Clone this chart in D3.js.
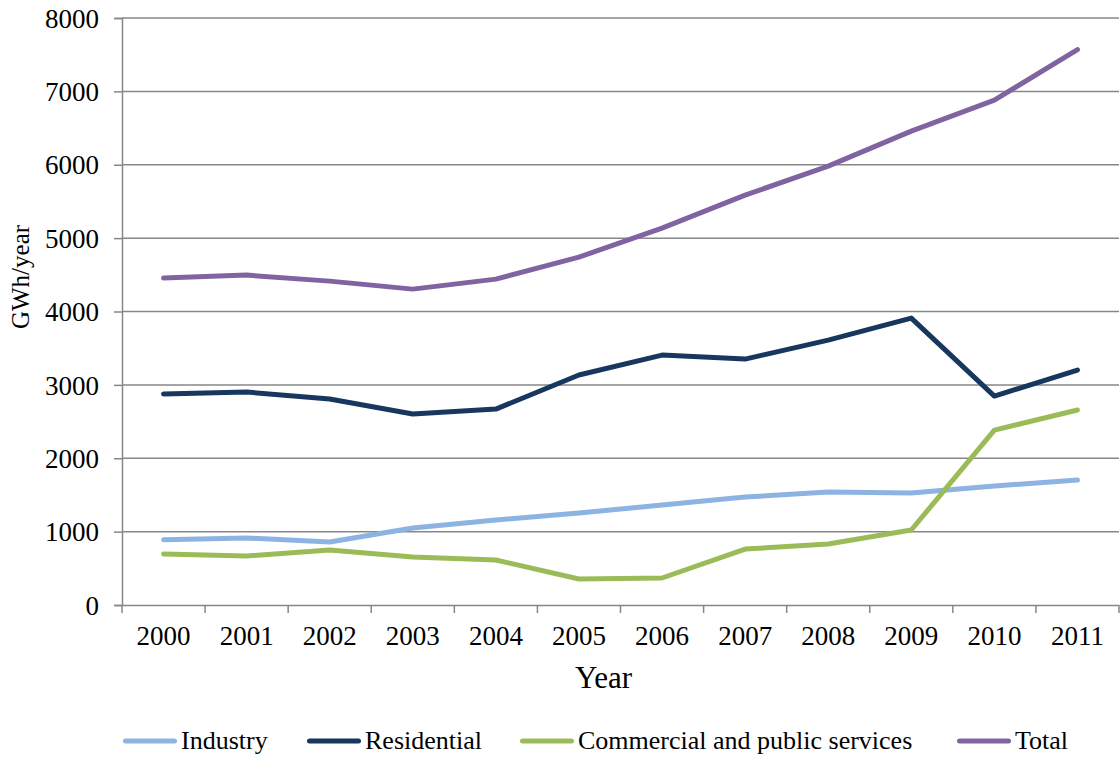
<!DOCTYPE html>
<html>
<head>
<meta charset="utf-8">
<script src="https://cdn.jsdelivr.net/npm/d3@7"></script>
<style>
  html, body { margin: 0; padding: 0; background: #fff; }
  svg { display: block; font-family: "Liberation Serif", "Times New Roman", serif; }
</style>
</head>
<body>
<svg id="chart" width="1120" height="758"></svg>
<script>
// Electricity consumption by sector, GWh/year
const years = ["2000","2001","2002","2003","2004","2005","2006","2007","2008","2009","2010","2011"];
const industry    = [890, 913, 858, 1049, 1158, 1253, 1362, 1471, 1540, 1526, 1621, 1703];
const residential = [2875, 2902, 2807, 2602, 2670, 3134, 3406, 3351, 3610, 3910, 2847, 3202];
const commercial  = [695, 668, 749, 654, 613, 354, 368, 763, 831, 1022, 2384, 2657];
const total       = [4455, 4496, 4414, 4305, 4441, 4741, 5136, 5586, 5981, 6458, 6880, 7570];
const yTicks = [0, 1000, 2000, 3000, 4000, 5000, 6000, 7000, 8000];

const seriesNames  = ["Industry", "Residential", "Commercial and public services", "Total"];
const seriesValues = [industry, residential, commercial, total];
const seriesColors = ["#8db3e2", "#17375e", "#9bbb59", "#8064a2"];

const svg = d3.select("#chart");
const plotLeft = 122, plotRight = 1119, plotTop = 18, plotBottom = 605;
const serif = "Liberation Serif, Times New Roman, serif";

const x = d3.scaleBand().domain(years).range([plotLeft, plotRight]);
const y = d3.scaleLinear().domain([0, 8000]).range([plotBottom, plotTop]);
const gridColor = "#878787";

// horizontal gridlines
svg.append("g").selectAll("line").data(yTicks.filter(d => d > 0)).join("line")
  .attr("x1", plotLeft).attr("x2", plotRight)
  .attr("y1", d => y(d)).attr("y2", d => y(d))
  .attr("stroke", gridColor).attr("stroke-width", 1.5);

// y axis
const yAxis = svg.append("g").attr("transform", `translate(${plotLeft},0)`)
  .attr("font-family", serif)
  .call(d3.axisLeft(y).tickValues(yTicks).tickFormat(d3.format("d")).tickSize(8).tickPadding(15));
yAxis.attr("font-family", serif);
yAxis.select(".domain").attr("stroke", gridColor).attr("stroke-width", 1.5);
yAxis.selectAll(".tick line").attr("stroke", gridColor).attr("stroke-width", 1.5);
yAxis.selectAll("text").attr("font-size", 27).attr("fill", "#000").attr("dy", "0.34em");

// x axis with tick marks between categories
const xAxis = svg.append("g").attr("transform", `translate(0,${plotBottom})`)
  .call(d3.axisBottom(x).tickSize(0).tickPadding(21));
xAxis.attr("font-family", serif);
xAxis.select(".domain").attr("stroke", gridColor).attr("stroke-width", 1.5);
xAxis.selectAll("text").attr("font-size", 27).attr("fill", "#000");
const edges = years.map(d => x(d)).concat([plotRight]);
svg.append("g").selectAll("line").data(edges).join("line")
  .attr("x1", d => d).attr("x2", d => d)
  .attr("y1", plotBottom).attr("y2", plotBottom + 8)
  .attr("stroke", gridColor).attr("stroke-width", 1.5);

// axis titles
svg.append("text").attr("x", (plotLeft + plotRight) / 2 - 17).attr("y", 688)
  .attr("text-anchor", "middle").attr("font-size", 31).text("Year");
svg.append("text").attr("transform", "translate(29,277) rotate(-90)")
  .attr("text-anchor", "middle").attr("font-size", 25).text("GWh/year");

// series lines
const line = d3.line()
  .x((d, i) => x(years[i]) + x.bandwidth() / 2)
  .y(d => y(d));
svg.append("g").selectAll("path").data(seriesValues).join("path")
  .attr("d", d => line(d))
  .attr("fill", "none")
  .attr("stroke", (d, i) => seriesColors[i])
  .attr("stroke-width", 5)
  .attr("stroke-linejoin", "round")
  .attr("stroke-linecap", "round");

// legend
const legendX = [123, 307, 520, 957];
const legend = svg.append("g").selectAll("g").data(seriesNames).join("g")
  .attr("transform", (d, i) => `translate(${legendX[i]},741)`);
legend.append("line").attr("x1", 2.5).attr("x2", 51.5).attr("y1", 0).attr("y2", 0)
  .attr("stroke", (d, i) => seriesColors[i]).attr("stroke-width", 5)
  .attr("stroke-linecap", "round");
legend.append("text").attr("x", 58).attr("y", 8).attr("font-size", 26).text(d => d);
</script>
</body>
</html>
